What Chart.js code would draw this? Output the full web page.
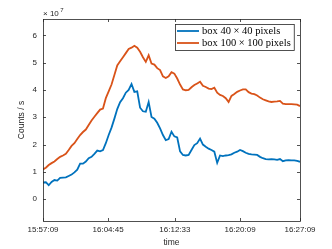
<!DOCTYPE html>
<html>
<head>
<meta charset="utf-8">
<script src="https://cdn.jsdelivr.net/npm/chart.js@4.4.1/dist/chart.umd.min.js"></script>
<style>
  html, body { margin: 0; padding: 0; background: #fff; }
</style>
</head>
<body>
<canvas id="countsChart" width="332" height="249"></canvas>
<script>
/* ── Data (seconds after 15:57:09, counts in units of 1e7) ── */
const timeSec = [
  0, 20, 40, 60, 80, 100, 120, 140, 160, 180,
  200, 220, 240, 260, 280, 300, 320, 340, 360, 380,
  400, 420, 440, 460, 480, 500, 520, 540, 560, 580,
  600, 620, 640, 660, 680, 700, 720, 740, 760, 780,
  800, 820, 840, 860, 880, 900, 920, 940, 960, 980,
  1000, 1020, 1040, 1060, 1080, 1100, 1120, 1140, 1160, 1180,
  1200, 1220, 1240, 1260, 1280, 1300, 1320, 1340, 1360, 1380,
  1400, 1420, 1440, 1460, 1480, 1500, 1520, 1540, 1560, 1580,
  1600, 1620, 1640, 1660, 1680, 1700, 1720, 1740, 1760, 1780,
  1800
];

const box40 = [
  0.61, 0.62, 0.51, 0.63, 0.70, 0.68, 0.78, 0.79, 0.80, 0.85,
  0.90, 0.98, 1.08, 1.30, 1.30, 1.38, 1.50, 1.55, 1.66, 1.78,
  1.75, 1.80, 2.05, 2.35, 2.62, 2.95, 3.30, 3.55, 3.70, 3.90,
  4.00, 4.22, 3.93, 3.95, 3.35, 3.22, 3.20, 3.56, 3.01, 2.95,
  2.80, 2.59, 2.35, 2.16, 2.20, 2.47, 2.30, 2.26, 1.75, 1.62,
  1.60, 1.62, 1.80, 1.98, 2.05, 2.22, 2.00, 1.92, 1.85, 1.80,
  1.74, 1.33, 1.60, 1.58, 1.60, 1.61, 1.64, 1.70, 1.74, 1.80,
  1.76, 1.70, 1.66, 1.64, 1.63, 1.62, 1.55, 1.50, 1.47, 1.46,
  1.47, 1.46, 1.44, 1.47, 1.39, 1.42, 1.43, 1.42, 1.42, 1.40,
  1.37
];

const box100 = [
  1.09, 1.15, 1.25, 1.32, 1.38, 1.47, 1.55, 1.60, 1.66, 1.80,
  1.95, 2.05, 2.20, 2.35, 2.46, 2.55, 2.72, 2.88, 3.02, 3.15,
  3.28, 3.32, 3.70, 3.95, 4.20, 4.55, 4.90, 5.05, 5.20, 5.35,
  5.50, 5.55, 5.62, 5.55, 5.40, 5.20, 5.03, 5.27, 4.97, 4.93,
  4.80, 4.73, 4.50, 4.44, 4.50, 4.65, 4.60, 4.42, 4.20, 4.02,
  3.99, 4.00, 4.10, 4.18, 4.24, 4.30, 4.15, 4.11, 4.05, 4.03,
  4.08, 3.90, 3.82, 3.78, 3.70, 3.56, 3.78, 3.85, 3.93, 3.98,
  4.02, 4.02, 3.92, 3.87, 3.85, 3.80, 3.72, 3.66, 3.62, 3.58,
  3.56, 3.57, 3.58, 3.60, 3.50, 3.48, 3.48, 3.48, 3.47, 3.46,
  3.41
];

const seriesLabels = ['box 40 \u00d7 40 pixels', 'box 100 \u00d7 100 pixels'];
const seriesColors = ['#0072BD', '#D95319'];

const xTickSeconds = [0, 456, 924, 1380, 1800];
const xTickLabels  = ['15:57:09', '16:04:45', '16:12:33', '16:20:09', '16:27:09'];
const yTickValues  = [0, 1, 2, 3, 4, 5, 6];

const AXIS_COLOR = '#262626';
const TICK_FONT  = { family: 'Liberation Sans', size: 8 };

const toPoints = vals => vals.map((v, i) => ({ x: timeSec[i], y: v }));

// ── Box, inward ticks, legend, exponent ──────
const matlabFrame = {
  id: 'matlabFrame',
  afterDatasetsDraw(chart) {
    const { ctx, chartArea: a, scales: { x, y } } = chart;
    const tk = 3;
    ctx.save();
    ctx.strokeStyle = AXIS_COLOR;
    ctx.lineWidth = 0.8;
    ctx.strokeRect(a.left + 0.5, a.top + 0.5, a.right - a.left, a.bottom - a.top);

    ctx.beginPath();
    xTickSeconds.forEach(v => {
      const px = Math.round(x.getPixelForValue(v)) + 0.5;
      ctx.moveTo(px, a.bottom); ctx.lineTo(px, a.bottom - tk);
      ctx.moveTo(px, a.top);    ctx.lineTo(px, a.top + tk);
    });
    yTickValues.forEach(v => {
      const py = Math.round(y.getPixelForValue(v)) + 0.5;
      ctx.moveTo(a.left, py);  ctx.lineTo(a.left + tk, py);
      ctx.moveTo(a.right, py); ctx.lineTo(a.right - tk, py);
    });
    ctx.stroke();

    // exponent label
    ctx.fillStyle = AXIS_COLOR;
    ctx.textBaseline = 'alphabetic';
    ctx.font = '8px "Liberation Sans"';
    ctx.fillText('\u00d7 10', a.left, a.top - 3);
    const w = ctx.measureText('\u00d7 10').width;
    ctx.font = '6px "Liberation Sans"';
    ctx.fillText('7', a.left + w + 1.5, a.top - 7);

    // legend
    ctx.font = '10.5px "Liberation Serif"';
    const textW = Math.max(...seriesLabels.map(t => ctx.measureText(t).width));
    const bw = 27 + textW + 3, bh = 26;
    const bx = Math.round(a.right - 6 - bw), by = Math.round(a.top + 5);
    ctx.fillStyle = '#fff';
    ctx.fillRect(bx, by, bw, bh);
    ctx.strokeStyle = AXIS_COLOR;
    ctx.lineWidth = 0.8;
    ctx.strokeRect(bx + 0.5, by + 0.5, bw, bh);
    ctx.textBaseline = 'middle';
    seriesLabels.forEach((label, i) => {
      const ly = by + 7 + i * 12;
      ctx.strokeStyle = seriesColors[i];
      ctx.lineWidth = 1.8;
      ctx.beginPath();
      ctx.moveTo(bx + 2, ly); ctx.lineTo(bx + 24, ly);
      ctx.stroke();
      ctx.fillStyle = '#000';
      ctx.fillText(label, bx + 27, ly + 0.5);
    });
    ctx.restore();
  }
};

new Chart(document.getElementById('countsChart').getContext('2d'), {
  type: 'line',
  data: {
    datasets: [box40, box100].map((vals, i) => ({
      label:           seriesLabels[i],
      data:            toPoints(vals),
      borderColor:     seriesColors[i],
      backgroundColor: seriesColors[i],
      borderWidth:     1.8,
      pointRadius:     0,
      tension:         0,
      fill:            false,
    }))
  },
  options: {
    responsive: false,
    animation:  false,
    devicePixelRatio: 1,
    layout: { padding: { top: 19, right: 32, left: 0, bottom: 0 } },
    plugins: {
      legend:  { display: false },
      tooltip: { enabled: false }
    },
    scales: {
      x: {
        type: 'linear',
        min: 0,
        max: 1800,
        grid:   { display: false, drawTicks: false },
        border: { display: false },
        afterBuildTicks: s => { s.ticks = xTickSeconds.map(v => ({ value: v })); },
        afterFit: s => { s.height = 28; },
        ticks: {
          color: AXIS_COLOR,
          font: TICK_FONT,
          padding: 4,
          maxRotation: 0,
          autoSkip: false,
          callback: (v, i) => xTickLabels[i]
        },
        title: {
          display: true,
          text: 'time',
          color: AXIS_COLOR,
          font: { family: 'Liberation Sans', size: 8.5 },
          padding: { top: 0, bottom: 1 }
        }
      },
      y: {
        min: -0.8,
        max: 6.6,
        grid:   { display: false, drawTicks: false },
        border: { display: false },
        afterBuildTicks: s => { s.ticks = yTickValues.map(v => ({ value: v })); },
        afterFit: s => { s.width = 43; },
        ticks: {
          color: AXIS_COLOR,
          font: TICK_FONT,
          padding: 6,
          callback: v => String(v)
        },
        title: {
          display: true,
          text: 'Counts / s',
          color: AXIS_COLOR,
          font: { family: 'Liberation Sans', size: 8.5 },
          padding: { top: 17, bottom: 0 }
        }
      }
    }
  },
  plugins: [matlabFrame]
});
</script>
</body>
</html>
